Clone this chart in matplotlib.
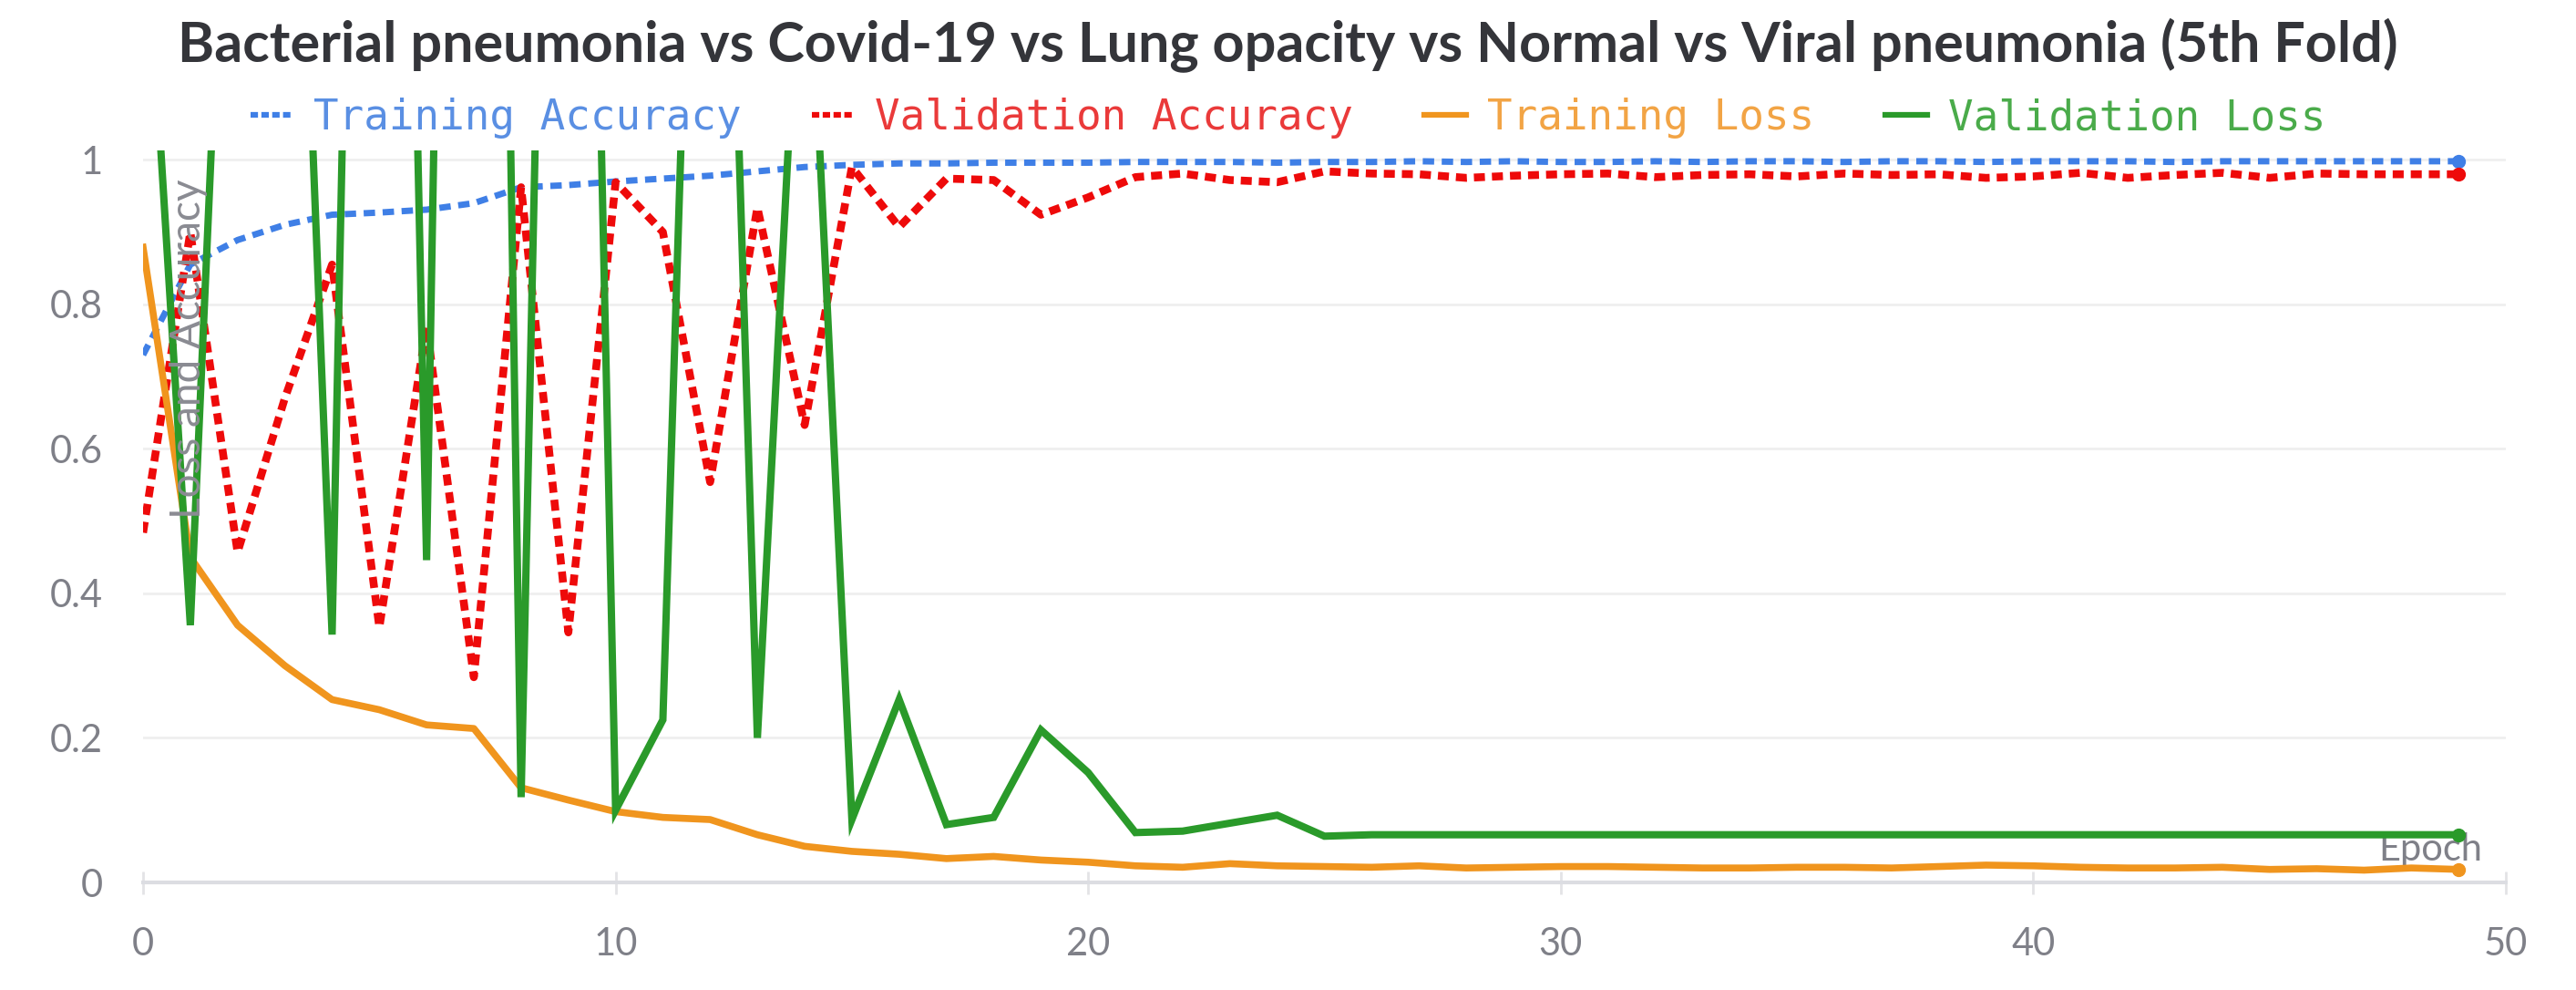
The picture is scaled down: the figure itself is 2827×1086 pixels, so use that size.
"""
Training / validation curves for the 5-class pneumonia model, 5th fold.
"""
import matplotlib
matplotlib.use("Agg")
import matplotlib.pyplot as plt
from matplotlib.lines import Line2D
from matplotlib.font_manager import FontProperties


epochs = list(range(50))

train_acc = [0.730, 0.855, 0.889, 0.910, 0.924, 0.927, 0.931, 0.940, 0.962, 0.965,
             0.970, 0.974, 0.978, 0.984, 0.990, 0.993, 0.995, 0.995, 0.996, 0.996,
             0.996, 0.997, 0.997, 0.997, 0.996, 0.997, 0.997, 0.998, 0.997, 0.998,
             0.997, 0.997, 0.998, 0.997, 0.998, 0.998, 0.997, 0.998, 0.998, 0.997,
             0.998, 0.998, 0.998, 0.997, 0.998, 0.998, 0.998, 0.998, 0.998, 0.998]

val_acc = [0.484, 0.900, 0.457, 0.670, 0.855, 0.353, 0.770, 0.284, 0.962, 0.346,
           0.969, 0.900, 0.554, 0.934, 0.633, 0.990, 0.907, 0.974, 0.972, 0.924,
           0.948, 0.976, 0.981, 0.972, 0.969, 0.984, 0.981, 0.980, 0.975, 0.978,
           0.980, 0.981, 0.976, 0.979, 0.980, 0.977, 0.981, 0.979, 0.980, 0.975,
           0.977, 0.982, 0.975, 0.979, 0.982, 0.975, 0.981, 0.980, 0.980, 0.980]

train_loss = [0.879, 0.450, 0.356, 0.300, 0.253, 0.239, 0.218, 0.213, 0.131, 0.114,
              0.098, 0.090, 0.087, 0.066, 0.050, 0.043, 0.039, 0.033, 0.036, 0.031,
              0.028, 0.023, 0.021, 0.026, 0.023, 0.022, 0.021, 0.023, 0.020, 0.021,
              0.022, 0.022, 0.021, 0.020, 0.020, 0.021, 0.021, 0.020, 0.022, 0.024,
              0.023, 0.021, 0.020, 0.020, 0.021, 0.018, 0.019, 0.017, 0.020, 0.018]

val_loss = [1.41, 0.356, 1.84, 2.00, 0.343, 3.50, 0.446, 4.20, 0.118, 3.15,
            0.100, 0.225, 2.30, 0.200, 1.45, 0.087, 0.253, 0.080, 0.090, 0.211,
            0.152, 0.069, 0.071, 0.082, 0.093, 0.064, 0.066, 0.066, 0.066, 0.066,
            0.066, 0.066, 0.066, 0.066, 0.066, 0.066, 0.066, 0.066, 0.066, 0.066,
            0.066, 0.066, 0.066, 0.066, 0.066, 0.066, 0.066, 0.066, 0.066, 0.066]

series_names = ["Training Accuracy", "Validation Accuracy", "Training Loss", "Validation Loss"]
x_ticks = [0, 10, 20, 30, 40, 50]
y_ticks = [0, 0.2, 0.4, 0.6, 0.8, 1]
y_tick_labels = ["0", "0.2", "0.4", "0.6", "0.8", "1"]

title = "Bacterial pneumonia vs Covid-19 vs Lung opacity vs Normal vs Viral pneumonia (5th Fold)"

W, H = 2827, 1086
fig = plt.figure(figsize=(W / 100, H / 100), dpi=100)
fig.patch.set_facecolor("white")

# axes box in pixels: x=0 at 157, x=50 at 2750, y=0 at 968, top clip ~165
ax = fig.add_axes([157 / W, 1 - 968 / H, (2750 - 157) / W, (968 - 165) / H])
ax.set_xlim(0, 50)
ax.set_ylim(0, 1.013)

colors = ["#3f7fe6", "#ee0a0a", "#f0951e", "#2a9a2a"]
text_colors = ["#5a8fe3", "#ea3a3a", "#f2a445", "#4aab4a"]

ax.plot(epochs, train_acc, color=colors[0], lw=5.0, dashes=(1.8, 1.2), zorder=3)
ax.plot(epochs, val_acc, color=colors[1], lw=6.2, dashes=(1.4, 0.9), zorder=4)
ax.plot(epochs, train_loss, color=colors[2], lw=5.5, zorder=5, solid_joinstyle="round")
ax.plot(epochs, val_loss, color=colors[3], lw=5.8, zorder=6, solid_joinstyle="miter")

# end-of-run dots
for ys, c in zip([train_acc, val_acc, train_loss, val_loss], colors):
    ax.plot(epochs[-1], ys[-1], "o", color=c, ms=10, zorder=7, clip_on=False)

# grid and axis styling
for s in ["top", "right", "left"]:
    ax.spines[s].set_visible(False)
ax.spines["bottom"].set_color("#dcdde2")
ax.spines["bottom"].set_linewidth(3)
ax.yaxis.grid(True, color="#efefef", lw=2)
ax.set_axisbelow(True)
ax.tick_params(axis="y", length=0, pad=32)
ax.set_yticks(y_ticks)
ax.set_yticklabels(y_tick_labels)
ax.set_xticks(x_ticks)
ax.tick_params(axis="x", direction="inout", length=18, width=2, color="#e3e3e6", pad=26)
tick_font = FontProperties(family="Lato", size=30)
for lab in ax.get_xticklabels() + ax.get_yticklabels():
    lab.set_fontproperties(tick_font)
    lab.set_color("#7f8088")

ax.text(48.4, 0.045, "Epoch", fontproperties=FontProperties(family="Lato", size=30),
        color="#7f8088", ha="center", va="center", zorder=2)
fig.text(207 / W, 1 - 383 / H, "Loss and Accuracy", rotation=90,
         fontproperties=FontProperties(family="Lato", size=33),
         color="#8a8b92", ha="center", va="center", zorder=1)

fig.text(0.5, 1 - 50 / H, title, ha="center", va="center",
         fontproperties=FontProperties(family="Lato", weight="bold", size=44),
         color="#34353a")

handles = [Line2D([], [], color=colors[0], lw=4.5, dashes=(1.3, 0.6)),
           Line2D([], [], color=colors[1], lw=4.5, dashes=(1.3, 0.6)),
           Line2D([], [], color=colors[2], lw=4.5),
           Line2D([], [], color=colors[3], lw=4.5)]
leg = fig.legend(handles, series_names, loc="center", bbox_to_anchor=(0.5, 1 - 130 / H),
                 ncol=4, frameon=False, handlelength=1.0, handletextpad=0.5,
                 columnspacing=1.7,
                 prop=FontProperties(family="DejaVu Sans Mono", size=33))
for t, c in zip(leg.get_texts(), text_colors):
    t.set_color(c)

fig.savefig("out.png", dpi=100, facecolor="white")
